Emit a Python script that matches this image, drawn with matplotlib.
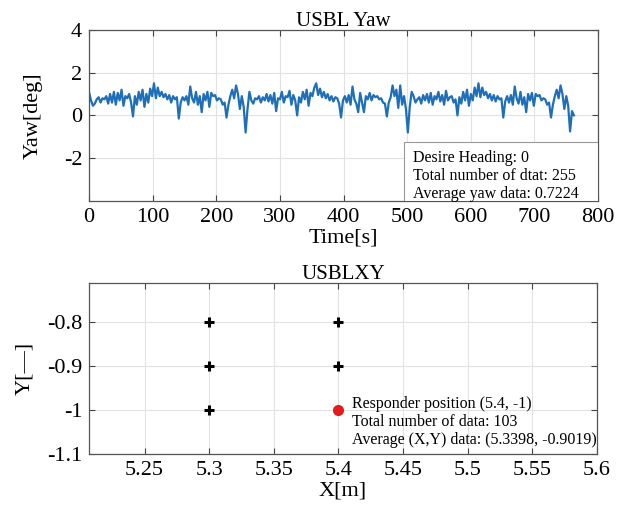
import numpy as np
import matplotlib.pyplot as plt
from matplotlib.patches import Rectangle

plt.rcParams['font.family'] = ['Liberation Serif', 'DejaVu Serif']
plt.rcParams['axes.unicode_minus'] = False

# yaw samples, one every 3 s
yaw_seg1 = [1.08, 0.7, 0.45, 0.55, 0.75, 0.85, 0.6, 0.8, 0.75, 0.9,
            0.55, 1.0, 0.6, 1.1, 0.5, 1.05, 0.7, 1.2, 0.45, 0.9,
            0.8, 1.0, 0.6, -0.05, 0.9, 0.5, 1.1, 0.7, 1.2, 0.4,
            1.0, 0.6, 1.25, 0.9, 1.5, 0.8, 1.3, 0.9, 1.1, 0.85,
            1.0, 0.75, 0.95, 0.6, 0.9, 0.75, 0.85, -0.15, 0.6, 0.85,
            0.7, 0.9, 0.5, 1.35, 0.8, 0.6, 1.1, 0.5, 0.9, 0.15,
            1.0, 0.7, 1.1, 0.4, 1.05, 0.9, 0.95, 0.7, 0.8, 0.75,
            0.5, 0.6, -0.1, 0.5, 0.9, 1.2, 0.8, 1.4, 1.0, 0.3,
            0.9, 0.4, -0.8, 0.3, 1.1]
yaw_seg2 = [0.7, 0.55, 0.8, 0.75, 0.9, 0.6, 0.85, 0.7, 1.0, 0.65,
            0.95, 0.55, 1.05, 0.2, 0.8, 0.75, 1.1, 0.6, 0.9, 0.85,
            1.15, 0.5, 0.95, 0.7, 0.0, 0.85, 0.6, 1.1, 0.75, 1.2,
            0.45, 1.05, 0.9, 1.3, 1.5, 0.95, 1.25, 0.85, 1.1, 0.8,
            1.0, 0.7, 0.9, 0.65, 0.85, 0.8, 0.55, -0.1, 0.7, 0.9,
            0.6, 0.95, 0.5, 1.35, 0.75, 0.55, 0.15, 1.05, 0.6, 0.15,
            0.9, 0.75, 1.05, 0.7, 0.95, 0.85, 0.9, 0.75, 0.8, 0.6,
            0.55, -0.05, 0.6, 0.85, 1.4, 0.9, 1.2, 0.35, 1.4, 0.5,
            0.9, 0.3, -0.8, 0.4, 1.1]
yaw_seg3 = [0.9, 0.6, 0.75, 0.85, 0.55, 0.95, 0.7, 1.0, 0.6, 1.05,
            0.5, 0.9, 0.75, 1.1, 0.65, 0.95, 0.5, 1.15, 0.7, 0.85,
            0.9, 0.6, 0.75, 0.0, 0.85, 0.55, 1.1, 0.7, 1.2, 0.45,
            1.0, 0.7, 1.3, 0.9, 1.5, 0.85, 1.3, 0.95, 1.1, 0.8,
            1.0, 0.7, 0.95, 0.65, 0.9, 0.75, 0.8, -0.1, 0.65, 0.9,
            0.6, 0.95, 0.5, 1.35, 0.8, 0.55, 1.1, 0.5, 0.85, 0.15,
            1.0, 0.7, 1.05, 0.45, 1.0, 0.9, 0.95, 0.7, 0.8, 0.75,
            0.5, 0.6, -0.1, 0.5, 0.9, 1.2, 0.8, 1.4, 1.0, 0.3,
            0.9, 0.45, -0.75, 0.2, 0.0]
yaw = np.array(yaw_seg1 + yaw_seg2 + yaw_seg3)
time_s = np.arange(len(yaw)) * 3

# USBL XY measured positions and responder
meas_x = [5.3, 5.3, 5.3, 5.4, 5.4]
meas_y = [-0.8, -0.9, -1.0, -0.8, -0.9]
resp_x = [5.4]
resp_y = [-1.0]

yaw_text = "Desire Heading: 0\nTotal number of dtat: 255\nAverage yaw data: 0.7224"
xy_text = "Responder position (5.4, -1)\nTotal number of data: 103\nAverage (X,Y) data: (5.3398, -0.9019)"

fig = plt.figure(figsize=(6.23, 5.14), dpi=100)
ax1 = fig.add_axes([0.143, 0.609, 0.817, 0.333])
ax2 = fig.add_axes([0.143, 0.117, 0.815, 0.333])

def matlab_style(ax):
    ax.grid(True, color='#e2e2e2', linewidth=0.8)
    ax.set_axisbelow(True)
    ax.tick_params(direction='in', top=True, right=True, labelsize=16,
                   color='#444444', length=4, pad=5)
    for s in ax.spines.values():
        s.set_color('#555555')
        s.set_linewidth(0.9)

ax1.plot(time_s, yaw, color='#1f6fb8', linewidth=1.6)
ax1.set_xlim(0, 800)
ax1.set_ylim(-4, 4)
ax1.set_xticks(range(0, 801, 100))
ax1.set_yticks([-2, 0, 2, 4])
ax1.set_title("USBL Yaw", fontsize=15, pad=3)
ax1.set_xlabel("Time[s]", fontsize=16, labelpad=1)
ax1.set_ylabel("Yaw[deg]", fontsize=16, labelpad=15)
matlab_style(ax1)
ax1.add_patch(Rectangle((0.619, 0.0), 0.381, 0.345, transform=ax1.transAxes,
                        facecolor='white', edgecolor='#999999', linewidth=0.8,
                        zorder=3))
ax1.text(0.637, 0.146, yaw_text, transform=ax1.transAxes, fontsize=11.5,
         va='center', ha='left', linespacing=1.15, zorder=4)

ax2.plot(meas_x, meas_y, '+', color='black', markersize=7, mew=2.2)
ax2.plot(resp_x, resp_y, 'o', color='#e8191b', markersize=7)
ax2.set_xlim(5.207, 5.6)
ax2.set_ylim(-1.1, -0.711)
ax2.set_xticks([5.25, 5.3, 5.35, 5.4, 5.45, 5.5, 5.55, 5.6])
ax2.set_xticklabels(['5.25', '5.3', '5.35', '5.4', '5.45', '5.5', '5.55', '5.6'])
ax2.set_yticks([-1.1, -1.0, -0.9, -0.8])
ax2.set_yticklabels(['-1.1', '-1', '-0.9', '-0.8'])
ax2.set_title("USBLXY", fontsize=15, pad=3)
ax2.set_xlabel("X[m]", fontsize=16, labelpad=1)
ax2.set_ylabel("Y[\u2014]", fontsize=16, labelpad=9)
matlab_style(ax2)
ax2.text(5.4104, -1.027, xy_text, fontsize=11.5, va='center', ha='left',
         linespacing=1.15)

fig.savefig("out.png", dpi=100)
